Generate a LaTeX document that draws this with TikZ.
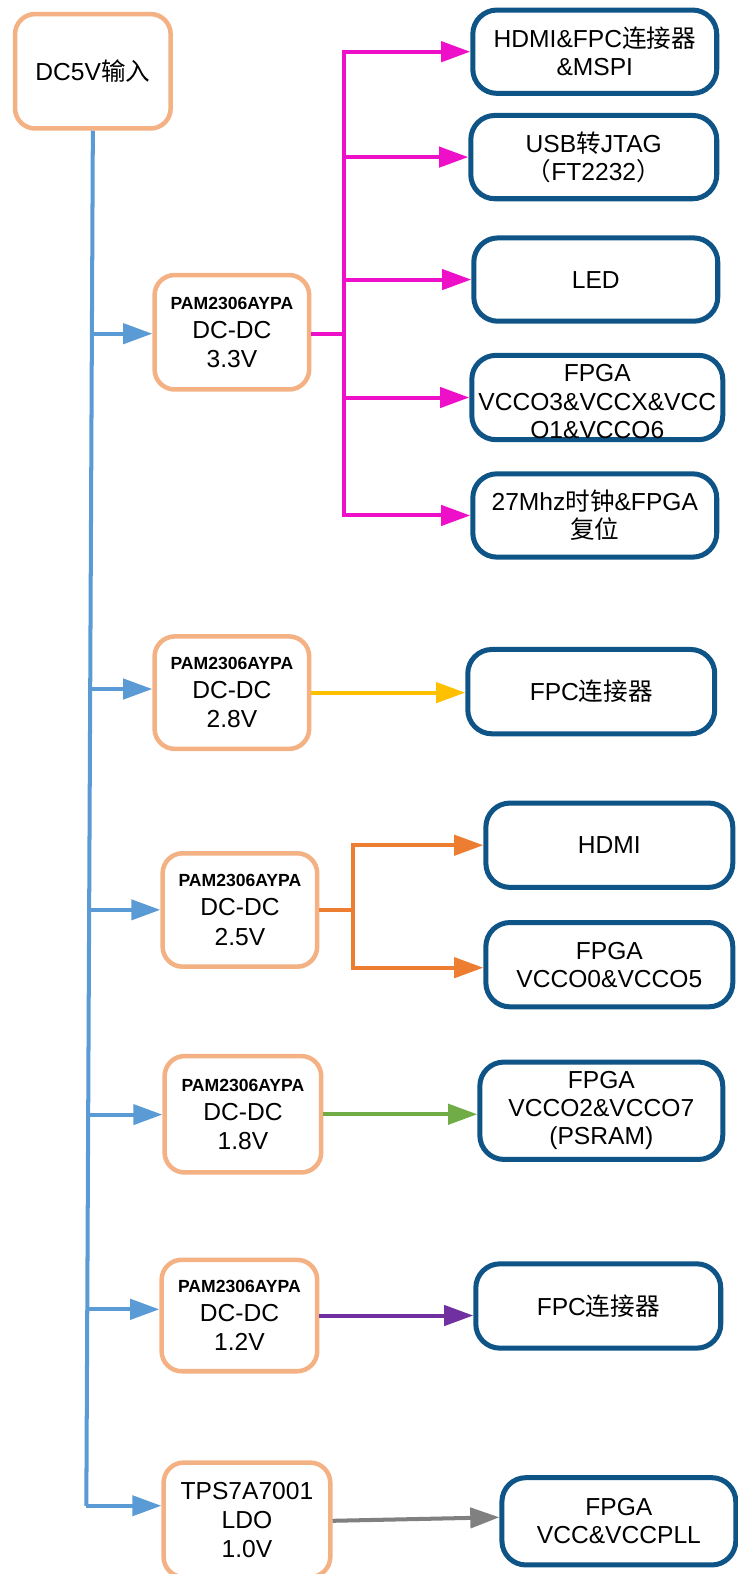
\documentclass[tikz,border=0pt]{standalone}
\usepackage{fontspec}
\setmainfont{Liberation Sans}
\newfontfamily\cjk{Noto Sans CJK SC}
\usetikzlibrary{arrows.meta,calc}
\definecolor{peach}{HTML}{F4B183}
\definecolor{dblue}{HTML}{0E5487}
\definecolor{tblue}{HTML}{5B9BD5}
\definecolor{pinkc}{HTML}{EE10C8}
\definecolor{ylw}{HTML}{FFC000}
\definecolor{org}{HTML}{ED7D31}
\definecolor{grn}{HTML}{70AD47}
\definecolor{prp}{HTML}{7030A0}
\definecolor{gry}{HTML}{808080}
\newcommand\pamtxt{{\fontsize{17.5}{26}\selectfont\bfseries PAM2306AYPA}}
\begin{document}
\begin{tikzpicture}[x=1pt,y=-1pt,
 src/.style={draw=peach,line width=4.5pt,rounded corners=20pt,fill=white,align=center,inner sep=0pt,font=\fontsize{24.5}{29}\selectfont},
 dst/.style={draw=dblue,line width=5pt,rounded corners=24pt,fill=white,align=center,inner sep=0pt,font=\fontsize{24.5}{28}\selectfont},
 conn/.style={line width=4pt,-{Triangle[length=29pt,width=20pt]}},
 wire/.style={line width=4pt}]
\useasboundingbox (0,0) rectangle (735,1568);
% source boxes
\node[src,minimum width=155pt,minimum height=114pt] (dc) at (92.5,71) {DC5V{\cjk 输入}};
\node[src,minimum width=154pt,minimum height=114pt] (b33) at (231,331) {\pamtxt\\DC-DC\\3.3V};
\node[src,minimum width=154pt,minimum height=112pt] (b28) at (231,690) {\pamtxt\\DC-DC\\2.8V};
\node[src,minimum width=154pt,minimum height=113pt] (b25) at (239,906.5) {\pamtxt\\DC-DC\\2.5V};
\node[src,minimum width=156pt,minimum height=116pt] (b18) at (242,1110) {\pamtxt\\DC-DC\\1.8V};
\node[src,minimum width=155pt,minimum height=111pt] (b12) at (238.5,1310.5) {\pamtxt\\DC-DC\\1.2V};
\node[src,minimum width=166pt,minimum height=114pt] (ldo) at (246,1514) {TPS7A7001\\LDO\\1.0V};
% destination boxes
\node[dst,minimum width=243pt,minimum height=83pt] (h1) at (592.5,51.5) {HDMI\&FPC{\cjk 连接器}\\\&MSPI};
\node[dst,minimum width=245pt,minimum height=83pt] (h2) at (591.5,156.5) {USB{\cjk 转}JTAG\\{\cjk （}FT2232{\cjk ）}};
\node[dst,minimum width=243pt,minimum height=83pt] (h3) at (593.5,278.5) {LED};
\node[dst,minimum width=246pt,minimum height=84pt] (h4) at (595,396) {\raisebox{-4pt}[\height][\depth]{\parbox{250pt}{\centering FPGA\\VCCO3\&VCCX\&VCC\\O1\&VCCO6}}};
\node[dst,minimum width=243pt,minimum height=83pt] (h5) at (592.5,513.5) {27Mhz{\cjk 时钟}\&FPGA\\{\cjk 复位}};
\node[dst,minimum width=246pt,minimum height=84pt] (f28) at (589,689) {FPC{\cjk 连接器}};
\node[dst,minimum width=246pt,minimum height=84pt] (hd) at (607,842) {HDMI};
\node[dst,minimum width=246pt,minimum height=84pt] (v05) at (607,961) {FPGA\\VCCO0\&VCCO5};
\node[dst,minimum width=242pt,minimum height=97pt] (v27) at (599,1106.5) {FPGA\\VCCO2\&VCCO7\\(PSRAM)};
\node[dst,minimum width=244pt,minimum height=84pt] (f12) at (596,1301) {FPC{\cjk 连接器}};
\node[dst,minimum width=233pt,minimum height=87pt] (vcc) at (616.5,1515.5) {FPGA\\VCC\&VCCPLL};
% blue trunk
\coordinate (tb) at (86,1500);
\draw[tblue,wire] (dc.south) -- (tb);
\coordinate (j1) at ($(dc.south)!(0,332)!(tb)$);
\coordinate (j2) at ($(dc.south)!(0,686)!(tb)$);
\coordinate (j3) at ($(dc.south)!(0,906)!(tb)$);
\coordinate (j4) at ($(dc.south)!(0,1110)!(tb)$);
\coordinate (j5) at ($(dc.south)!(0,1304)!(tb)$);
\draw[tblue,conn] (j1) -- (j1 -| b33.west);
\draw[tblue,conn] (j2) -- (j2 -| b28.west);
\draw[tblue,conn] (j3) -- (j3 -| b25.west);
\draw[tblue,conn] (j4) -- (j4 -| b18.west);
\draw[tblue,conn] (j5) -- (j5 -| b12.west);
\draw[tblue,conn] (tb) -- (tb -| ldo.west);
% 3.3V branch
\coordinate (pk) at (343,333);
\draw[pinkc,wire] ($(b33.east)+(0,2)$) -- ($(b33.east -| pk)+(0,2)$);
\draw[pinkc,wire,line cap=rect] (pk |- h1.west) -- (pk |- h5.west);
\foreach \n in {h1,h2,h3,h4,h5}
  \draw[pinkc,conn] (pk |- \n.west) -- (\n.west);
% 2.8V
\draw[ylw,conn] (b28.east) -- (b28.east -| f28.west);
% 2.5V
\coordinate (oj) at (352,906);
\draw[org,wire] (b25.east) -- (b25.east -| oj);
\draw[org,wire,line cap=rect] (oj |- hd.west) -- ($(oj |- v05.west)+(0,3)$);
\draw[org,conn] (oj |- hd.west) -- (hd.west);
\draw[org,conn] ($(oj |- v05.west)+(0,3)$) -- ($(v05.west)+(0,3)$);
% 1.8V
\draw[grn,conn] (b18.east) -- (b18.east -| v27.west);
% 1.2V
\draw[prp,conn] (b12.east) -- (b12.east -| f12.west);
% 1.0V
\draw[gry,conn] ($(ldo.east)+(0,1)$) -- ($(vcc.west)+(0,-4)$);
\end{tikzpicture}
\end{document}
